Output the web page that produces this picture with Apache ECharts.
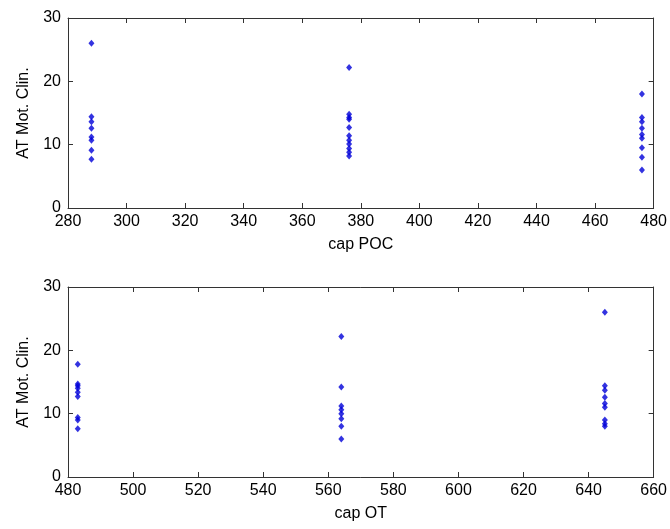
<!DOCTYPE html>
<html>
<head>
<meta charset="utf-8">
<script src="https://cdn.jsdelivr.net/npm/echarts@6/dist/echarts.min.js"></script>
<style>
html,body{margin:0;padding:0;background:#fff;}
#c{width:670px;height:529px;}
</style>
</head>
<body>
<div id="c"></div>
<script>
// cap POC groups (x) and AT Mot. Clin. values (y)
const pocGroups = [288, 376, 476];
const pocValues = [
  [26, 14.4, 13.6, 12.6, 11.2, 10.7, 9.1, 7.7],
  [22.2, 14.8, 14.3, 14.0, 12.7, 11.4, 10.7, 10.1, 9.4, 8.8, 8.2],
  [18, 14.3, 13.6, 12.6, 11.6, 11.0, 9.5, 8.0, 6.0]
];
// cap OT groups (x) and AT Mot. Clin. values (y)
const otGroups = [483, 564, 645];
const otValues = [
  [17.8, 14.7, 14.4, 14.0, 13.4, 12.7, 9.4, 9.0, 7.6],
  [22.2, 14.2, 11.2, 10.6, 10.0, 9.2, 8.0, 6.0],
  [26, 14.4, 13.7, 12.6, 11.6, 11.0, 9.0, 8.4, 8.0]
];
const yTicks = {min: 0, max: 30, interval: 10};
const pocAxis = {min: 280, max: 480, interval: 20};
const otAxis = {min: 480, max: 660, interval: 20};

function pairs(groups, values) {
  const out = [];
  groups.forEach((g, i) => values[i].forEach(v => out.push([g, v])));
  return out;
}

const font = {fontFamily: '"Liberation Sans Narrow", "Liberation Sans", Arial', fontSize: 16, color: '#000'};
const lineStyle = {color: '#333', width: 1};

function xAx(grid, rng, name, pos) {
  const bottom = pos === 'bottom';
  return {
    type: 'value', gridIndex: grid, position: pos,
    min: rng.min, max: rng.max, interval: rng.interval,
    name: bottom ? name : '', nameLocation: 'middle', nameGap: 29,
    nameTextStyle: font,
    axisLine: {show: true, onZero: false, lineStyle: lineStyle},
    axisTick: {show: true, inside: true, length: 5, lineStyle: lineStyle},
    axisLabel: {show: bottom, margin: 6, ...font},
    splitLine: {show: false}
  };
}
function yAx(grid, name, pos) {
  const left = pos === 'left';
  return {
    type: 'value', gridIndex: grid, position: pos,
    min: yTicks.min, max: yTicks.max, interval: yTicks.interval,
    name: left ? name : '', nameLocation: 'middle', nameGap: 36, nameRotate: 90,
    nameTextStyle: font,
    axisLine: {show: true, onZero: false, lineStyle: lineStyle},
    axisTick: {show: true, inside: true, length: 5, lineStyle: lineStyle},
    axisLabel: {show: left, margin: 7, ...font},
    splitLine: {show: false}
  };
}

const chart = echarts.init(document.getElementById('c'), null, {renderer: 'canvas'});
chart.setOption({
  animation: false,
  backgroundColor: '#fff',
  grid: [
    {left: 68, right: 15, top: 18, height: 190},
    {left: 68, right: 15, top: 287, height: 190}
  ],
  xAxis: [
    xAx(0, pocAxis, 'cap POC', 'bottom'),
    xAx(1, otAxis, 'cap OT', 'bottom'),
    xAx(0, pocAxis, '', 'top'),
    xAx(1, otAxis, '', 'top')
  ],
  yAxis: [
    yAx(0, 'AT Mot. Clin.', 'left'),
    yAx(1, 'AT Mot. Clin.', 'left'),
    yAx(0, '', 'right'),
    yAx(1, '', 'right')
  ],
  series: [
    {type: 'scatter', xAxisIndex: 0, yAxisIndex: 0, data: pairs(pocGroups, pocValues),
     symbol: 'diamond', symbolSize: [6, 7], itemStyle: {color: '#0000d8'}},
    {type: 'scatter', xAxisIndex: 1, yAxisIndex: 1, data: pairs(otGroups, otValues),
     symbol: 'diamond', symbolSize: [6, 7], itemStyle: {color: '#0000d8'}}
  ]
});
</script>
</body>
</html>
